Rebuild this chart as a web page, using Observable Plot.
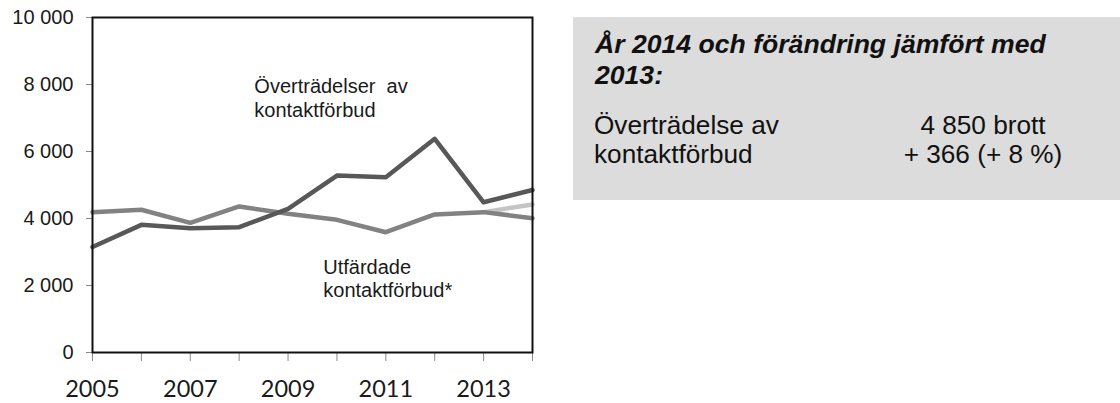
<!DOCTYPE html>
<html>
<head>
<meta charset="utf-8">
<script src="https://cdn.jsdelivr.net/npm/d3@7"></script>
<script src="https://cdn.jsdelivr.net/npm/@observablehq/plot@0.6"></script>
<style>
  html, body { margin: 0; padding: 0; background: #fff; }
  #wrap { position: relative; width: 1120px; height: 403px; overflow: hidden; }
  #box { position: absolute; left: 573px; top: 17px; width: 547px; height: 183px; background: #dcdcdc; }
  .ln { position: absolute; white-space: nowrap; font-family: "Liberation Sans", Arial, sans-serif; color: #111; }
  .title { font-size: 26.6px; font-weight: bold; font-style: italic; line-height: 30px; }
  .body { font-size: 26.2px; line-height: 30px; }
</style>
</head>
<body>
<div id="wrap">
  <div id="chart"></div>
  <div id="box"></div>
</div>
<script>
// ---- data ----
const years = [2005, 2006, 2007, 2008, 2009, 2010, 2011, 2012, 2013, 2014];
const overtradelser = [3150, 3810, 3710, 3740, 4290, 5280, 5230, 6380, 4484, 4850];
const utfardade = [4190, 4260, 3870, 4360, 4140, 3960, 3590, 4120, 4190, 4010];
const utfardadeAltYears = [2013, 2014];
const utfardadeAlt = [4190, 4420];
const yTicks = [0, 2000, 4000, 6000, 8000, 10000];
const xTicks = years;
const xLabelYears = [2005, 2007, 2009, 2011, 2013];
const seriesLabels = ["Överträdelser  av\nkontaktförbud", "Utfärdade\nkontaktförbud*"];
const labelPos = [{x: 2008.31, y: 7609}, {x: 2009.72, y: 2221}];
const boxTitle = ["År 2014 och förändring jämfört med", "2013:"];
const boxRowLabel = ["Överträdelse av", "kontaktförbud"];
const boxRowValue = ["4 850 brott", "+ 366 (+ 8 %)"];

const rowsA = years.map((y, i) => ({year: y, value: overtradelser[i]}));
const rowsB = years.map((y, i) => ({year: y, value: utfardade[i]}));
const rowsC = utfardadeAltYears.map((y, i) => ({year: y, value: utfardadeAlt[i]}));
const labels = seriesLabels.map((t, i) => ({text: t, ...labelPos[i]}));

const fmt = d => d3.format(",")(d).replace(/,/g, " ");
const arial = "'Liberation Sans', Arial, sans-serif";

const chart = Plot.plot({
  width: 1120,
  height: 403,
  marginLeft: 92,
  marginRight: 588,
  marginTop: 17,
  marginBottom: 51,
  x: {domain: [2005, 2014]},
  y: {domain: [0, 10000]},
  style: {background: "transparent", overflow: "visible"},
  marks: [
    Plot.axisY(yTicks, {tickSize: 6, tickFormat: () => "", color: "#8a8a8a", label: null}),
    Plot.axisY(yTicks, {tickSize: 0, tickPadding: 19, tickFormat: fmt, color: "#1a1a1a", fontSize: 20, fontFamily: arial, label: null}),
    Plot.axisX(xTicks, {tickSize: 9, tickFormat: () => "", color: "#8a8a8a", label: null}),
    Plot.axisX(xLabelYears, {tickSize: 0, tickPadding: 28, tickFormat: d => String(d), color: "#1a1a1a", fontSize: 23.5, fontFamily: "Lato, 'Open Sans', sans-serif", label: null}),
    Plot.line(rowsC, {x: "year", y: "value", stroke: "#c4c4c4", strokeWidth: 4.5}),
    Plot.line(rowsB, {x: "year", y: "value", stroke: "#828282", strokeWidth: 4.5}),
    Plot.line(rowsA, {x: "year", y: "value", stroke: "#585858", strokeWidth: 4.5}),
    Plot.frame({stroke: "#111", strokeWidth: 2}),
    Plot.text(labels, {x: "x", y: "y", text: "text", textAnchor: "start", lineAnchor: "middle", lineHeight: 1.17, fontSize: 20, fontFamily: arial, fill: "#1a1a1a"})
  ]
});
document.getElementById("chart").appendChild(chart);

// ---- info box ----
const box = document.getElementById("box");
function addLine(text, cls, left, top, width, align) {
  const d = document.createElement("div");
  d.className = "ln " + cls;
  d.textContent = text;
  d.style.left = left + "px";
  d.style.top = top + "px";
  if (width) { d.style.width = width + "px"; d.style.textAlign = align; }
  box.appendChild(d);
}
// box origin: (573, 17)
addLine(boxTitle[0], "title", 22, 12);
addLine(boxTitle[1], "title", 22, 43);
addLine(boxRowLabel[0], "body", 21, 93);
addLine(boxRowLabel[1], "body", 21, 122);
addLine(boxRowValue[0], "body", 310, 93, 200, "center");
addLine(boxRowValue[1], "body", 310, 122, 200, "center");
</script>
</body>
</html>
